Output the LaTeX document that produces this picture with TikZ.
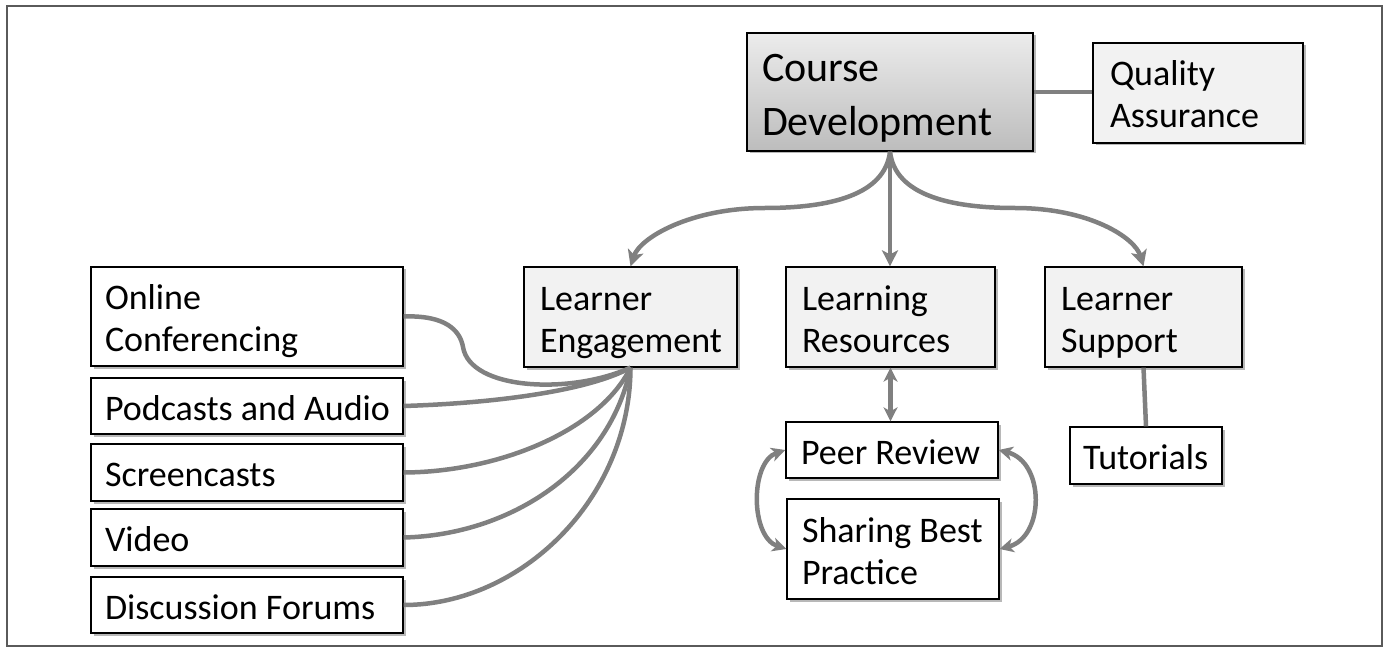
\documentclass[tikz,border=0pt]{standalone}
\usepackage{fontspec}
\setmainfont{Carlito}
\usetikzlibrary{arrows.meta,shadows}
\definecolor{conncol}{HTML}{808080}
\definecolor{lightfill}{HTML}{F2F2F2}
\definecolor{frame}{HTML}{5A5A5A}
\begin{document}
\begin{tikzpicture}[x=1pt,y=1pt,
  shad/.style={drop shadow={shadow xshift=2.5pt,shadow yshift=-2.5pt,fill=black,opacity=0.28}},
  bx/.style={shad,draw=black,line width=1.3pt,fill=white,align=left,inner ysep=0pt,
     font={\fontsize{36}{42}\selectfont\lineskiplimit=-200pt},
     execute at begin node={\spaceskip=0pt\xspaceskip=0pt\relax},
     text height=35pt,text depth=7pt},
  two/.style={text depth=49pt},
  lbx/.style={bx,fill=lightfill},
  conn/.style={draw=conncol,line width=4.5pt},
  arr/.style={conn,-{Stealth[length=16pt,width=16pt,inset=4pt]}},
  darr/.style={conn,{Stealth[length=14pt,width=14pt,inset=4pt]}-{Stealth[length=14pt,width=14pt,inset=4pt]}}
]
\useasboundingbox (0,0) rectangle (1389,-652);
\draw[frame,line width=2pt] (7,-6) rectangle (1382,-646);

% top level
\node[bx,top color=gray!15,bottom color=gray!52,
  font={\fontsize{42}{54}\selectfont\lineskiplimit=-200pt},
  text height=44pt,text depth=65pt,
  minimum width=286pt,minimum height=118pt,inner xsep=15pt,text width=256pt]
  (CD) at (890,-92) {\mbox{Course}\\\mbox{Development}};
\node[lbx,two,minimum width=210pt,minimum height=100pt,inner xsep=17pt,text width=176pt]
  (QA) at (1198,-93) {\mbox{Quality}\\\mbox{Assurance}};

% second level
\node[lbx,two,minimum width=213pt,minimum height=100pt,inner xsep=16pt,text width=181pt]
  (LE) at (630.5,-317) {\mbox{Learner}\\\mbox{Engagement}};
\node[lbx,two,minimum width=209pt,minimum height=100pt,inner xsep=16pt,text width=177pt]
  (LR) at (890.5,-317) {\mbox{Learning}\\\mbox{Resources}};
\node[lbx,two,minimum width=197pt,minimum height=100pt,inner xsep=16pt,text width=165pt]
  (LS) at (1143.5,-317) {\mbox{Learner}\\\mbox{Support}};

% left column
\node[bx,two,minimum width=312pt,minimum height=99pt,inner xsep=14pt,text width=284pt]
  (OC) at (247,-316.5) {\mbox{Online}\\\mbox{Conferencing}};
\node[bx,minimum width=312pt,minimum height=56pt,inner xsep=14pt,text width=284pt]
  (PA) at (247,-406) {\mbox{Podcasts and Audio}};
\node[bx,minimum width=312pt,minimum height=57pt,inner xsep=14pt,text width=284pt]
  (SC) at (247,-472.5) {\mbox{Screencasts}};
\node[bx,minimum width=312pt,minimum height=57pt,inner xsep=14pt,text width=284pt]
  (VI) at (247,-537.5) {\mbox{Video}};
\node[bx,minimum width=312pt,minimum height=56pt,inner xsep=14pt,text width=284pt]
  (DF) at (247,-605) {\mbox{Discussion Forums}};

% resources column
\node[bx,minimum width=212pt,minimum height=56pt,inner xsep=15pt,text width=182pt]
  (PR) at (892,-450) {\mbox{Peer Review}};
\node[bx,two,minimum width=212pt,minimum height=100pt,inner xsep=15pt,text width=182pt]
  (SB) at (893,-549) {\mbox{Sharing Best}\\\mbox{Practice}};

% support column
\node[bx,minimum width=152pt,minimum height=57pt,inner xsep=13pt,text width=126pt]
  (TU) at (1146,-455.5) {\mbox{Tutorials}};

% connectors
\draw[conn] (CD.east) -- (CD.east -| QA.west);
\draw[arr] (CD.south) .. controls (885,-195) and (830,-208) .. (765,-208)
  .. controls (690,-208) and (640,-238) .. (LE.north);
\draw[arr] (CD.south) -- (CD.south |- LR.north);
\draw[arr] (CD.south) .. controls (895,-195) and (950,-208) .. (1015,-208)
  .. controls (1090,-208) and (1135,-238) .. (LS.north);

\draw[conn] (OC.east) .. controls (445,-315) and (460,-330) .. (463,-347)
  .. controls (470,-390) and (570,-395) .. (LE.south);
\draw[conn] (PA.east) .. controls (500,-403) and (590,-390) .. (LE.south);
\draw[conn] (SC.east) .. controls (500,-472) and (600,-430) .. (LE.south);
\draw[conn] (VI.east) .. controls (510,-535) and (610,-470) .. (LE.south);
\draw[conn] (DF.east) .. controls (520,-605) and (630,-500) .. (LE.south);

\draw[darr] (LR.south) -- (LR.south |- PR.north);
\draw[darr] (PR.west) .. controls (750,-462) and (750,-537) .. (SB.west);
\draw[darr] (PR.east) .. controls (1045,-462) and (1045,-537) .. (SB.east);

\draw[conn] (LS.south) -- (TU.north);
\end{tikzpicture}
\end{document}
